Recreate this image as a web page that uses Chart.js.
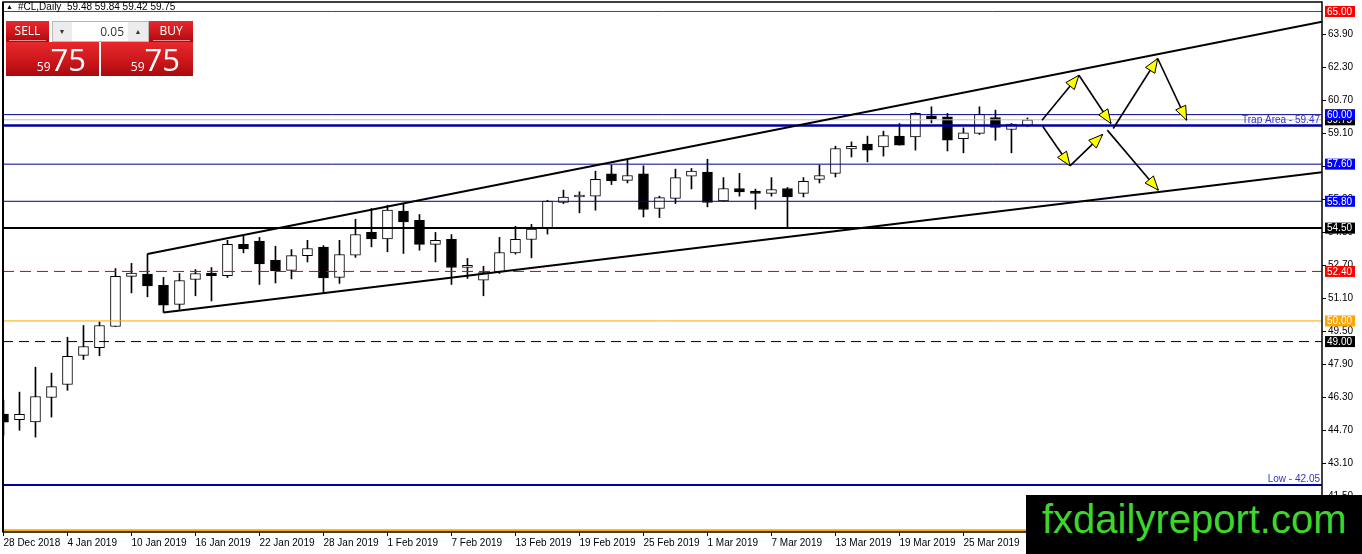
<!DOCTYPE html>
<html>
<head>
<meta charset="utf-8">
<script src="https://cdn.jsdelivr.net/npm/chart.js@4.4.1/dist/chart.umd.min.js"></script>
<style>
  html, body { margin: 0; padding: 0; background: #fff; }
  #wrap { position: relative; width: 1362px; height: 554px; overflow: hidden; font-family: "Liberation Sans", Arial, sans-serif; }
  #graficoCL { position: absolute; left: 0; top: 0; }
  .cab { position: absolute; top: 0; font-size: 10px; color: #000; line-height: 13px; white-space: nowrap; }
  .rojo { position: absolute; background: linear-gradient(to bottom, #e8282c 0%, #cc171c 55%, #a90a0e 100%); color: #fff; font-family: "Open Sans", "Noto Sans", sans-serif; }
  .tab { height: 21px; line-height: 20px; font-size: 12px; text-align: center; }
  .tab span { display: inline-block; border-bottom: 1px solid rgba(255,255,255,0.55); width: 37px; line-height: 19px; }
  .precio { position: absolute; right: 13px; top: 0; white-space: nowrap; }
  .precio .peq { font-size: 12px; }
  .precio .gra { font-size: 31px; line-height: 34px; }
  #spin { position: absolute; left: 52px; top: 21px; width: 95px; height: 19px; border: 1px solid #b8b8b8; background: #ececec; font-family: "Open Sans", "Noto Sans", sans-serif; }
  #spin .btn { position: absolute; top: 0; width: 18px; height: 19px; font-size: 7px; line-height: 19px; text-align: center; color: #333; }
  #spin .val { position: absolute; left: 19px; top: 0; width: 56px; height: 19px; background: #fff; font-size: 12px; line-height: 19px; text-align: right; color: #333; box-sizing: border-box; padding-right: 4px; }
  #marca { position: absolute; left: 1026px; top: 495px; width: 336px; height: 59px; background: #000; }
  #marca span { position: absolute; left: 16px; top: 2px; font-family: "Liberation Sans", Arial, sans-serif; font-size: 40px; color: #3fd62b; white-space: nowrap; }
</style>
</head>
<body>
<div id="wrap">
  <canvas id="graficoCL" width="1362" height="554"></canvas>

  <div class="cab" style="left:6px;font-size:7px;">&#9650;</div>
  <div class="cab" style="left:18px;">#CL,Daily</div>
  <div class="cab" style="left:67px;">59.48 59.84 59.42 59.75</div>

  <div class="rojo tab" style="left:6px;top:21px;width:43px;"><span>SELL</span></div>
  <div class="rojo tab" style="left:149px;top:21px;width:44px;"><span>BUY</span></div>
  <div class="rojo" style="left:6px;top:42px;width:93px;height:34px;">
    <div class="precio"><span class="peq">59</span><span class="gra">75</span></div>
  </div>
  <div class="rojo" style="left:101px;top:42px;width:92px;height:34px;">
    <div class="precio"><span class="peq">59</span><span class="gra">75</span></div>
  </div>
  <div id="spin">
    <div class="btn" style="left:0;">&#9660;</div>
    <div class="val">0.05</div>
    <div class="btn" style="left:76px;">&#9650;</div>
  </div>

  <div id="marca"><span>fxdailyreport.com</span></div>
</div>

<script>
// velas diarias #CL (indice de barra = dia de cotizacion)
const apertura = [45.48, 45.22, 45.11, 46.29, 46.92, 48.33, 48.71, 49.73, 52.16, 52.27,
  51.73, 50.80, 52.01, 52.32, 52.19, 53.71, 53.87, 52.94, 52.45, 53.17,
  53.58, 52.11, 53.19, 54.30, 53.98, 55.32, 54.88, 53.71, 53.96, 52.59,
  51.98, 52.38, 53.30, 53.95, 54.48, 55.74, 56.01, 56.05, 57.13, 56.81,
  57.13, 55.45, 55.94, 57.02, 57.21, 55.82, 56.42, 56.29, 56.18, 56.42,
  56.18, 56.86, 57.15, 58.34, 58.57, 58.44, 58.96, 58.92, 59.94, 59.89,
  58.83, 59.09, 59.86, 59.28, 59.48];
const maximo = [46.16, 46.55, 47.76, 47.47, 49.21, 49.78, 49.95, 52.54, 52.79, 53.25,
  52.11, 52.30, 52.49, 52.59, 53.91, 54.16, 54.05, 53.62, 53.46, 53.91,
  53.65, 53.91, 54.93, 55.45, 55.61, 55.69, 55.16, 54.29, 54.19, 53.03,
  52.65, 54.05, 54.59, 54.68, 55.85, 56.34, 56.26, 57.26, 57.55, 57.79,
  57.52, 56.05, 57.36, 57.39, 57.84, 56.95, 57.15, 56.39, 56.95, 56.47,
  56.95, 57.55, 58.47, 58.68, 58.96, 59.20, 59.57, 60.09, 60.38, 60.06,
  59.36, 60.38, 60.22, 59.57, 59.84];
const minimo = [44.46, 44.70, 44.37, 45.34, 46.64, 48.13, 48.31, 49.73, 51.36, 51.17,
  50.41, 50.56, 51.22, 50.97, 52.11, 53.30, 51.77, 51.84, 52.04, 52.86,
  51.38, 51.82, 53.08, 53.59, 53.35, 53.27, 53.43, 52.86, 51.77, 52.06,
  51.22, 52.30, 53.24, 53.06, 54.21, 55.69, 55.24, 55.37, 56.61, 56.69,
  55.04, 55.01, 55.69, 56.40, 55.53, 55.79, 56.05, 55.42, 56.05, 54.53,
  56.01, 56.69, 56.98, 57.95, 57.71, 57.99, 58.52, 58.28, 59.60, 58.24,
  58.15, 59.04, 58.76, 58.15, 59.42];
const cierre = [45.09, 45.47, 46.34, 46.82, 48.28, 48.76, 49.78, 52.16, 52.32, 51.70,
  50.76, 51.96, 52.30, 52.19, 53.71, 53.49, 52.77, 52.43, 53.17, 53.51,
  52.09, 53.22, 54.19, 53.98, 55.37, 54.80, 53.71, 53.91, 52.59, 52.70,
  52.35, 53.32, 53.96, 54.45, 55.81, 56.01, 56.10, 56.86, 56.79, 57.05,
  55.40, 55.98, 56.95, 57.26, 55.74, 56.42, 56.26, 56.18, 56.37, 56.01,
  56.77, 57.05, 58.36, 58.47, 58.28, 58.99, 58.52, 60.06, 59.81, 58.76,
  59.12, 60.02, 59.38, 59.54, 59.75];

// etiquetas del eje de tiempo (cada 4 barras)
const barrasFecha = [0, 4, 8, 12, 16, 20, 24, 28, 32, 36, 40, 44, 48, 52, 56, 60, 64];
const fechas = ["28 Dec 2018", "4 Jan 2019", "10 Jan 2019", "16 Jan 2019", "22 Jan 2019",
  "28 Jan 2019", "1 Feb 2019", "7 Feb 2019", "13 Feb 2019", "19 Feb 2019", "25 Feb 2019",
  "1 Mar 2019", "7 Mar 2019", "13 Mar 2019", "19 Mar 2019", "25 Mar 2019", "29 Mar 2019"];

// eje de precios
const ticksPrecio = [63.9, 62.3, 60.7, 59.1, 57.5, 55.9, 54.3, 52.7, 51.1, 49.5, 47.9, 46.3, 44.7, 43.1, 41.5];
const precioMin = 39.77, precioMax = 65.46;
const barraMin = -0.03, barraMax = 82.41;

// niveles horizontales
const niveles = [65.00, 60.00, 59.75, 59.47, 57.60, 55.80, 54.50, 52.40, 50.00, 49.00, 42.05, 39.85];
const estiloNivel = [
  { c: "#d01010", w: 1 }, { c: "#00008b", w: 1 }, { c: "#c0c0c0", w: 1 }, { c: "#0000a0", w: 2.5 },
  { c: "#00008b", w: 1 }, { c: "#00008b", w: 1 }, { c: "#000000", w: 2 }, { c: "#d00000", w: 1, d: [11, 6] },
  { c: "#ffa500", w: 1 }, { c: "#000000", w: 1, d: [10, 6] }, { c: "#0000a0", w: 2 }, { c: "#ffa500", w: 2 }
];
const textoNivel = ["Trap Area - 59.47", "Low - 42.05"];
const valorTextoNivel = [59.47, 42.05];

// marcas de precio en el eje derecho
const marcas = [59.75, 65.00, 60.00, 57.60, 55.80, 54.50, 52.40, 50.00, 49.00];
const colorMarca = ["#000000", "#ff0000", "#0000ff", "#0000ff", "#0000ff", "#000000", "#ff0000", "#ffa500", "#000000"];

// lineas de tendencia (canal)
const tendX = [[9, barraMax], [10, barraMax]];
const tendY = [[53.25, 64.50], [50.41, 57.21]];

// flechas del escenario
const flechaX0 = [64.91, 67.22, 69.36, 72.14, 64.95, 66.66, 68.99];
const flechaY0 = [59.73, 61.91, 59.33, 62.72, 59.44, 57.52, 59.25];
const flechaX1 = [67.22, 69.22, 72.14, 73.95, 66.66, 68.70, 72.18];
const flechaY1 = [61.91, 59.57, 62.72, 59.73, 57.52, 59.04, 56.34];

const idx = apertura.map((_, i) => i);
const alcista = idx.map((i) => cierre[i] >= apertura[i]);

const datasets = [];

flechaX0.forEach((_, i) => {
  datasets.push({
    type: "line",
    data: [{ x: flechaX0[i], y: flechaY0[i] }, { x: flechaX1[i], y: flechaY1[i] }],
    borderColor: "#000", borderWidth: 1.6, pointRadius: 0, order: 0,
  });
});

tendX.forEach((tx, i) => {
  datasets.push({
    type: "line",
    data: [{ x: tx[0], y: tendY[i][0] }, { x: tx[1], y: tendY[i][1] }],
    borderColor: "#000", borderWidth: 2, pointRadius: 0, order: 1,
  });
});

niveles.forEach((v, i) => {
  const e = estiloNivel[i];
  datasets.push({
    type: "line",
    data: [{ x: barraMin, y: v }, { x: barraMax, y: v }],
    borderColor: e.c, borderWidth: e.w, borderDash: e.d || [], pointRadius: 0, order: 2,
  });
});

// cuerpos
datasets.push({
  type: "bar",
  data: idx.map((i) => ({ x: i, y: [apertura[i], cierre[i]] })),
  backgroundColor: alcista.map((a) => (a ? "#ffffff" : "#000000")),
  borderColor: "#000", borderWidth: 1, borderSkipped: false,
  barThickness: 10, grouped: false, order: 3,
});
// mechas
datasets.push({
  type: "bar",
  data: idx.map((i) => ({ x: i, y: [minimo[i], maximo[i]] })),
  backgroundColor: "#000", borderWidth: 0,
  barThickness: 1, grouped: false, order: 4,
});

const extras = {
  id: "extras",
  afterDatasetsDraw(chart) {
    const { ctx, chartArea: a, scales } = chart;
    const x = scales.x, y = scales.y;
    ctx.save();
    ctx.beginPath();
    ctx.rect(a.left, a.top, a.right - a.left, a.bottom - a.top);
    ctx.clip();
    // puntas de flecha
    flechaX1.forEach((_, i) => {
      const x0 = x.getPixelForValue(flechaX0[i]), y0 = y.getPixelForValue(flechaY0[i]);
      const x1 = x.getPixelForValue(flechaX1[i]), y1 = y.getPixelForValue(flechaY1[i]);
      const ang = Math.atan2(y1 - y0, x1 - x0);
      const L = 14, W = 5.5;
      const bx = x1 - L * Math.cos(ang), by = y1 - L * Math.sin(ang);
      ctx.beginPath();
      ctx.moveTo(x1, y1);
      ctx.lineTo(bx + W * Math.sin(ang), by - W * Math.cos(ang));
      ctx.lineTo(bx - W * Math.sin(ang), by + W * Math.cos(ang));
      ctx.closePath();
      ctx.fillStyle = "#ffff00";
      ctx.fill();
      ctx.strokeStyle = "#000";
      ctx.lineWidth = 1;
      ctx.stroke();
    });
    // textos de niveles
    ctx.font = "10px 'Liberation Sans', Arial, sans-serif";
    ctx.fillStyle = "#3434c8";
    ctx.textAlign = "right";
    ctx.textBaseline = "alphabetic";
    textoNivel.forEach((t, i) => {
      ctx.fillText(t, a.right - 2, y.getPixelForValue(valorTextoNivel[i]) - 2.5);
    });
    ctx.restore();
  },
  afterDraw(chart) {
    const { ctx, chartArea: a, scales } = chart;
    const y = scales.y;
    ctx.save();
    // marco
    ctx.strokeStyle = "#000";
    ctx.lineWidth = 1.5;
    ctx.strokeRect(a.left, a.top, a.right - a.left, a.bottom - a.top);
    ctx.lineWidth = 2;
    ctx.beginPath();
    ctx.moveTo(a.left, a.top);
    ctx.lineTo(a.left, a.bottom);
    ctx.stroke();
    // marcas del eje derecho
    ctx.font = "10px 'Liberation Sans', Arial, sans-serif";
    ctx.textAlign = "left";
    ctx.textBaseline = "middle";
    marcas.forEach((v, i) => {
      const py = y.getPixelForValue(v);
      ctx.fillStyle = colorMarca[i];
      ctx.fillRect(a.right + 3, py - 5.5, 30, 11);
      ctx.fillStyle = "#fff";
      ctx.fillText(v.toFixed(2), a.right + 5, py + 0.5);
    });
    ctx.restore();
  },
};

new Chart(document.getElementById("graficoCL").getContext("2d"), {
  type: "bar",
  data: { datasets: datasets },
  options: {
    responsive: false,
    animation: false,
    layout: { padding: { left: 3, top: 2, right: 0, bottom: 0 } },
    plugins: { legend: { display: false }, tooltip: { enabled: false } },
    scales: {
      x: {
        type: "linear",
        min: barraMin,
        max: barraMax,
        offset: false,
        border: { display: false },
        grid: { drawOnChartArea: false, offset: false, tickLength: 4, color: "#000" },
        ticks: {
          autoSkip: false, maxRotation: 0, align: "start", padding: 1,
          color: "#000", font: { family: "'Liberation Sans', Arial, sans-serif", size: 10 },
          callback: (v) => fechas[barrasFecha.indexOf(v)] || "",
        },
        afterBuildTicks: (s) => { s.ticks = barrasFecha.map((v) => ({ value: v })); },
        afterFit: (s) => { s.height = 22; s.paddingLeft = 0; s.paddingRight = 0; },
      },
      y: {
        type: "linear",
        position: "right",
        min: precioMin,
        max: precioMax,
        border: { display: false },
        grid: { drawOnChartArea: false, tickLength: 4, color: "#000" },
        ticks: {
          padding: 2, color: "#000",
          font: { family: "'Liberation Sans', Arial, sans-serif", size: 10 },
          callback: (v) => Number(v).toFixed(2),
        },
        afterBuildTicks: (s) => { s.ticks = ticksPrecio.map((v) => ({ value: v })); },
        afterFit: (s) => { s.width = 40; s.paddingTop = 0; s.paddingBottom = 0; },
      },
    },
  },
  plugins: [extras],
});
</script>
</body>
</html>
